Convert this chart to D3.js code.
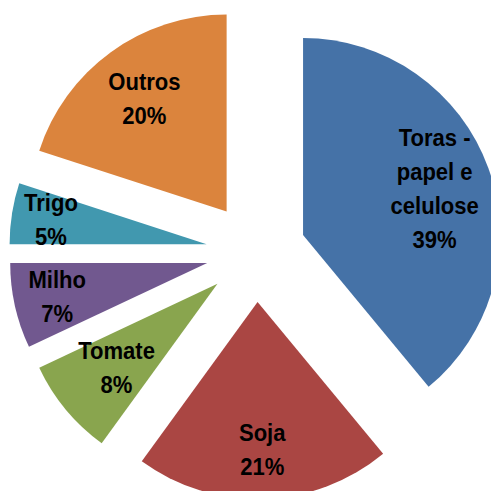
<!DOCTYPE html>
<html>
<head>
<meta charset="utf-8">
<script src="https://cdn.jsdelivr.net/npm/d3@7"></script>
<style>
  html, body { margin: 0; padding: 0; background: #fff; }
  svg { display: block; }
</style>
</head>
<body>
<div id="chart"></div>
<script>
// ---- data ----
const categories = ["Toras - papel e celulose", "Soja", "Tomate", "Milho", "Trigo", "Outros"];
const values = [39, 21, 8, 7, 5, 20];
const labelLines = [["Toras -", "papel e", "celulose", "39%"], ["Soja", "21%"], ["Tomate", "8%"], ["Milho", "7%"], ["Trigo", "5%"], ["Outros", "20%"]];
const colors = ["#4572A7", "#AA4643", "#89A54E", "#71588F", "#4198AF", "#DB843D"];

// ---- layout ----
const W = 491, H = 491;
const cx = 256, cy = 252, R = 197, explode = 50;
const labelFrac = { "Toras - papel e celulose": 0.71, "Soja": 0.75, "Tomate": 0.665, "Milho": 0.78, "Trigo": 0.80, "Outros": 0.71 };
const lineH = 34, fontSize = 24.5, squeeze = 0.9;

const svg = d3.select("#chart").append("svg").attr("width", W).attr("height", H);

const pie = d3.pie().sort(null).value(d => d.value).startAngle(0).endAngle(2 * Math.PI);
const data = categories.map((c, i) => ({ name: c, value: values[i], lines: labelLines[i], color: colors[i] }));
const arcs = pie(data);
const arc = d3.arc().innerRadius(0).outerRadius(R);

const g = svg.append("g").attr("transform", `translate(${cx},${cy})`);

const slice = g.selectAll("g.slice").data(arcs).enter().append("g")
  .attr("class", "slice")
  .attr("transform", d => {
    const m = (d.startAngle + d.endAngle) / 2;
    return `translate(${Math.sin(m) * explode},${-Math.cos(m) * explode})`;
  });

slice.append("path").attr("d", arc).attr("fill", d => d.data.color);

slice.each(function(d) {
  const m = (d.startAngle + d.endAngle) / 2;
  const lr = R * labelFrac[d.data.name];
  const lx = Math.sin(m) * lr, ly = -Math.cos(m) * lr;
  const n = d.data.lines.length;
  const t = d3.select(this).append("text")
    .attr("transform", `translate(${lx},${ly}) scale(${squeeze},1)`)
    .attr("text-anchor", "middle")
    .attr("font-family", "'Liberation Sans', Arial, sans-serif")
    .attr("font-weight", "bold")
    .attr("font-size", fontSize)
    .attr("fill", "#000");
  d.data.lines.forEach((s, i) => {
    t.append("tspan")
      .attr("x", 0)
      .attr("y", (i - (n - 1) / 2) * lineH + fontSize * 0.36)
      .text(s);
  });
});
</script>
</body>
</html>
